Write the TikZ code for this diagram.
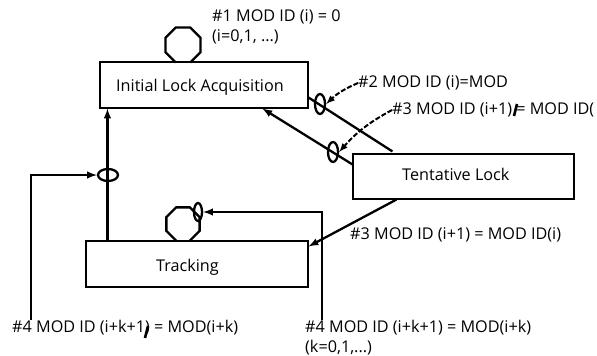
\documentclass[tikz,border=0pt]{standalone}
\usepackage{fontspec}
\setmainfont{Open Sans}
\usetikzlibrary{shapes}
\usetikzlibrary{arrows}
\begin{document}
\begin{tikzpicture}[x=1pt,y=-1pt]
	\tikzstyle{state}=[rectangle,draw,line width=1.1pt,inner sep=0pt]
	\tikzstyle{lab}=[inner sep=0pt,anchor=west,font=\fontsize{16.2}{19.5}\selectfont]
	\tikzstyle{conn}=[line width=2.3pt]
	\tikzstyle{ring}=[ellipse,draw,line width=2.3pt,inner sep=0pt]
	\tikzstyle{lead}=[line width=2pt,dash pattern=on 5pt off 2pt]
	\useasboundingbox (0,0) rectangle (597,356);
	
	\node[state,minimum width=208pt,minimum height=46pt](init) at (204,85){};
	\node[lab] at (116,87) {Initial Lock Acquisition};
	\node[state,minimum width=221pt,minimum height=45pt](tent) at (463.5,176.5){};
	\node[lab] at (402,174) {Tentative Lock};
	\node[state,minimum width=222pt,minimum height=46pt](track) at (197,264){};
	\node[lab] at (156,267) {Tracking};
	
	\node[lab] at (212,17) {\#1 MOD ID (i) = 0};
	\node[lab] at (212,37) {(i=0,1, ...)};
	\node[lab](lab2) at (358,83) {\#2 MOD ID (i)=MOD};
	\node[lab](lab3) at (392,110) {\#3 MOD ID (i+1) = MOD ID(};
	\node[lab] at (350,235) {\#3 MOD ID (i+1) = MOD ID(i)};
	\node[lab,anchor=north west,align=left](lab4b) at (305,320) {\#4 MOD ID (i+k+1) = MOD(i+k)\\(k=0,1,...)};
	\node[lab,anchor=north west](lab4a) at (12,320) {\#4 MOD ID (i+k+1) = MOD(i+k)};
	
	\node[ring,minimum width=20pt,minimum height=12pt](m4) at (108,175){};
	\node[ring,minimum width=10pt,minimum height=20pt](m2) at (320,104){};
	\node[ring,minimum width=10pt,minimum height=20pt](m3) at (333,152){};
	\node[ring,minimum width=8pt,minimum height=18pt](mt) at (198,212){};
	
	\draw[conn] (183,45) ++(67.5:19) \foreach \a in {22.5,-22.5,...,-247.5}{ -- ([shift={(183,45)}]\a:19)};
	\draw[conn] (183,224) ++(67.5:18) \foreach \a in {22.5,-22.5,...,-247.5}{ -- ([shift={(183,224)}]\a:18)};
	
	\draw[conn,-latex] ([xshift=22pt]track.north west) -- ([xshift=8pt]init.south west);
	\draw[conn,-latex] ([xshift=19pt]lab4a.north west) |- (m4.west);
	\draw[conn,-latex] ([xshift=17pt]lab4b.north west) |- (mt.east);
	\draw[conn,-latex] ([xshift=44pt]tent.south west) -- ([yshift=-6pt]track.north east);
	\draw[conn] ([yshift=11pt]init.south east) -- ([xshift=40pt,yshift=2pt]tent.north west);
	\draw[conn,-latex] ([yshift=-11pt]tent.north west) -- ([xshift=163pt]init.south west);
	\draw[lead,-latex] (lab2.west) to[bend right=10] (m2.east);
	\draw[lead,-latex] (lab3.west) to[bend right=10] (m3.east);
	
	\draw[line width=2.6pt] (514,116) -- (517,104);
	\draw[line width=2.6pt] (145,338) -- (148,326);
\end{tikzpicture}
\end{document}
